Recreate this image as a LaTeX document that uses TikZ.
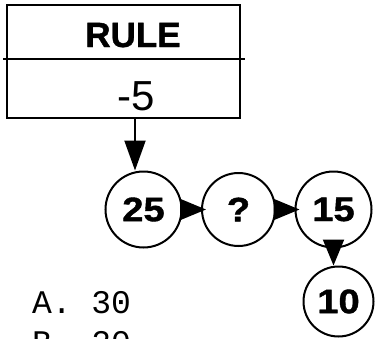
\documentclass[tikz,border=0pt]{standalone}
\usepackage{fontspec}
\newfontfamily\helv{Liberation Sans}
\newfontfamily\helvheavy[FakeBold=1.2]{Liberation Sans Bold}
\newfontfamily\numfont[FakeBold=1.2, FakeStretch=1.12]{Liberation Sans Bold}
\newfontfamily\cour{Liberation Mono}
\usetikzlibrary{positioning, arrows.meta}

\begin{document}
\begin{tikzpicture}[x=1bp, y=-1bp, line width=2bp, on grid,
    num/.style={circle, draw, minimum size=76bp, inner sep=0pt,
      font=\numfont\fontsize{34bp}{34bp}\selectfont},
    flow/.style={-{Triangle[length=26bp, width=21bp]}, shorten >=-5bp},
    txt/.style={inner sep=0pt}]
  \useasboundingbox (0,0) rectangle (375,339);
  \clip (0,0) rectangle (375,339);

  % Rule box
  \draw (7,5) rectangle (240,118);
  \draw (3,59) -- (245,59);
  \node[txt, anchor=base, font=\helvheavy\fontsize{35bp}{35bp}\selectfont] (rule) at (133,47) {RULE};
  \node[txt, anchor=base, font=\helv\fontsize{42bp}{42bp}\selectfont] (minus) at (136.5,110) {-5};
  \coordinate (drop) at (135,118);

  % Number chain
  \node[num] (n25) at (143.5,209.5) {25};
  \node[num, minimum size=73bp, right=95bp of n25] (nq) {?};
  \node[num, right=95bp of nq] (n15) {15};
  \node[num, minimum size=70bp, below=92bp of n15, xshift=5bp] (n10) {10};

  \draw[-{Triangle[length=30bp, width=21bp]}] (drop) -- (drop |- n25.north);
  \path[flow] (n25) edge (nq)
              (nq) edge (n15);
  \draw[flow, shorten >=0bp] (n15.south) -- (n15.south |- n10.north);

  % Answer choices
  \node[txt, anchor=base west, font=\cour\fontsize{33bp}{33bp}\selectfont] (optA) at (31,313) {A. 30};
  \node[txt, anchor=base west, font=\cour\fontsize{33bp}{33bp}\selectfont] (optB) at (31,353) {B. 20};
\end{tikzpicture}
\end{document}
